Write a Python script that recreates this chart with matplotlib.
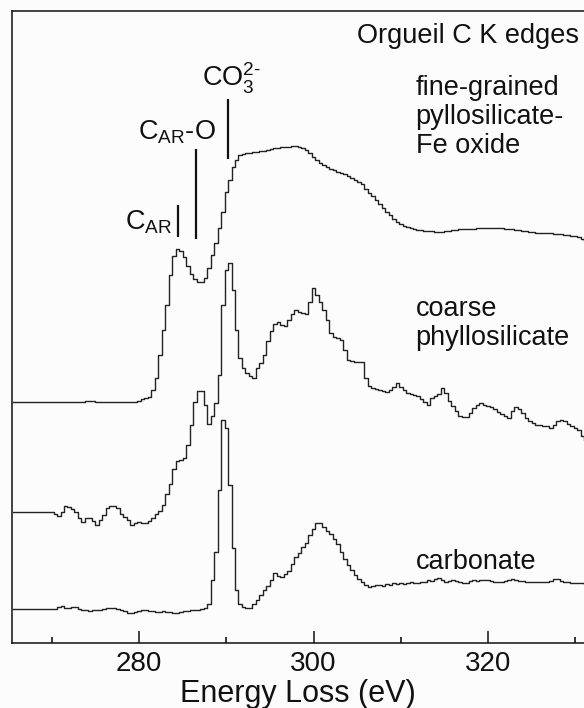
import matplotlib
matplotlib.use("Agg")
import matplotlib.pyplot as plt
import numpy as np
from matplotlib.ticker import MultipleLocator

# channel grid of the spectra (eV)
e_start = 265.6
e_step = 0.4

# C K edge intensities (arbitrary units, already offset for stacking)
fine_grained = [
    241, 241, 241, 241, 241, 241, 241, 241, 241, 241,
    241, 241, 241, 241, 241, 241, 241, 241, 241, 241,
    241, 242, 242, 242, 241, 241, 241, 241, 241, 241,
    241, 241, 241, 241, 241, 241, 242, 244, 245, 246,
    253, 265, 288, 313, 338, 368, 387, 394, 392, 386,
    377, 369, 364, 361, 361, 365, 375, 388, 400, 415,
    431, 451, 463, 476, 483, 488, 489, 490, 490, 491,
    491, 492, 492, 493, 494, 495, 495, 496, 496, 496,
    497, 497, 496, 495, 493, 490, 486, 483, 480, 478,
    476, 474, 473, 471, 470, 469, 467, 465, 463, 461,
    459, 454, 450, 447, 443, 439, 435, 431, 428, 424,
    421, 419, 417, 416, 415, 414, 413, 413, 412, 412,
    412, 411, 411, 411, 412, 412, 413, 413, 414, 414,
    414, 414, 414, 415, 415, 415, 415, 415, 415, 415,
    415, 414, 414, 414, 413, 413, 412, 412, 411, 411,
    410, 410, 410, 410, 410, 409, 409, 409, 408, 408,
    407, 407, 406, 404, 402,
]
coarse = [
    131, 131, 131, 131, 131, 131, 131, 131, 131, 131,
    131, 131, 129, 127, 131, 137, 136, 134, 131, 125,
    121, 125, 125, 122, 118, 123, 128, 135, 137, 137,
    135, 129, 126, 123, 118, 120, 121, 120, 120, 122,
    125, 129, 132, 138, 149, 159, 174, 182, 183, 185,
    198, 218, 241, 252, 252, 238, 219, 227, 240, 268,
    338, 373, 380, 353, 313, 285, 275, 270, 267, 265,
    275, 280, 288, 302, 312, 319, 321, 318, 317, 323,
    329, 333, 331, 330, 329, 341, 355, 348, 341, 333,
    323, 310, 306, 305, 303, 293, 283, 282, 281, 281,
    281, 265, 257, 255, 254, 253, 252, 251, 253, 256,
    260, 256, 253, 250, 249, 248, 247, 244, 241, 238,
    245, 247, 249, 255, 250, 242, 237, 232, 227, 226,
    226, 230, 235, 238, 240, 238, 237, 236, 234, 231,
    229, 227, 225, 232, 236, 234, 230, 225, 222, 220,
    218, 218, 217, 217, 215, 218, 222, 223, 222, 219,
    217, 215, 213, 207, 203,
]
carbonate = [
    34, 34, 34, 34, 34, 34, 34, 34, 34, 34,
    34, 34, 34, 36, 37, 35, 35, 36, 36, 34,
    33, 33, 32, 33, 33, 33, 34, 35, 35, 35,
    34, 33, 32, 30, 30, 31, 32, 33, 33, 32,
    32, 31, 31, 32, 31, 31, 30, 30, 31, 32,
    32, 33, 33, 33, 34, 35, 39, 63, 91, 153,
    223, 215, 158, 95, 53, 39, 36, 35, 35, 39,
    43, 48, 53, 57, 63, 70, 67, 66, 69, 72,
    79, 86, 90, 96, 100, 108, 114, 120, 120, 116,
    112, 109, 104, 99, 91, 84, 78, 73, 68, 64,
    61, 58, 56, 57, 58, 58, 57, 59, 58, 60,
    59, 60, 59, 60, 61, 60, 60, 61, 61, 63,
    62, 64, 65, 63, 61, 62, 63, 62, 61, 60,
    60, 62, 63, 62, 63, 63, 63, 62, 61, 61,
    61, 62, 63, 64, 63, 62, 62, 61, 61, 61,
    61, 61, 61, 61, 62, 64, 64, 62, 61, 61,
    60, 60, 60, 60, 59,
]

# feature markers: energy (eV), bottom, top
marker_energy = [284.5, 286.5, 290.2]
marker_bottom = [406, 404, 484]
marker_top = [438, 494, 544]
marker_labels = [r"C$_{\rm AR}$", r"C$_{\rm AR}$-O", r"CO$_3^{2\text{-}}$"]

plt.rcParams["font.family"] = ["Liberation Sans", "DejaVu Sans"]
plt.rcParams["mathtext.fontset"] = "custom"
plt.rcParams["mathtext.rm"] = "Liberation Sans"
plt.rcParams["mathtext.it"] = "Liberation Sans:italic"

energy = e_start + e_step * np.arange(len(fine_grained))

fig = plt.figure(figsize=(5.84, 7.08), dpi=100, facecolor="#fcfcfc")
ax = fig.add_axes([12 / 584, 65 / 708, 572 / 584, 632 / 708])
ax.set_facecolor("#fcfcfc")

for spec in (fine_grained, coarse, carbonate):
    ax.plot(energy, spec, drawstyle="steps-mid", color="#222222", lw=1.0)

ax.vlines(marker_energy, marker_bottom, marker_top, color="#111111", lw=1.6)

ink = "#111111"
fs = 19.5
ax.text(283.8, 413, marker_labels[0], fontsize=fs, ha="right", va="baseline", color=ink)
ax.text(279.9, 504, marker_labels[1], fontsize=fs, ha="left", va="baseline", color=ink)
ax.text(287.2, 557, marker_labels[2], fontsize=fs, ha="left", va="baseline", color=ink)

ax.text(330.4, 600, "Orgueil C K edges", fontsize=fs, ha="right", va="baseline", color=ink)
ax.text(311.7, 490, "fine-grained\npyllosilicate-\nFe oxide", fontsize=fs,
        ha="left", va="baseline", linespacing=1.15, color=ink)
ax.text(311.7, 298, "coarse\nphyllosilicate", fontsize=fs,
        ha="left", va="baseline", linespacing=1.15, color=ink)
ax.text(311.7, 74, "carbonate", fontsize=fs, ha="left", va="baseline", color=ink)

ax.set_xlim(265.44, 331.0)
ax.set_ylim(0, 632)
ax.xaxis.set_major_locator(MultipleLocator(20))
ax.xaxis.set_minor_locator(MultipleLocator(10))
ax.tick_params(axis="x", which="major", direction="in", length=8.5, width=1.1,
               labelsize=20, pad=6, colors=ink)
ax.tick_params(axis="x", which="minor", direction="in", length=4.5, width=1.1)
ax.set_yticks([])
ax.spines["right"].set_visible(False)
for side in ("left", "top", "bottom"):
    ax.spines[side].set_linewidth(1.1)
    ax.spines[side].set_color(ink)
ax.set_xlabel("Energy Loss (eV)", fontsize=22, labelpad=1, color=ink)

fig.savefig("out.png", dpi=100, facecolor=fig.get_facecolor())
